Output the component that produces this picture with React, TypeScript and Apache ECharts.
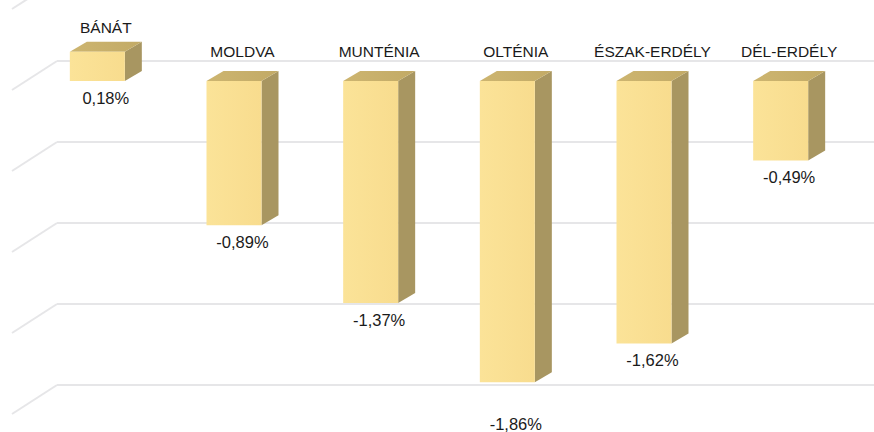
import React, { useEffect, useRef } from "react";
import * as echarts from "echarts";

const categories = ["BÁNÁT", "MOLDVA", "MUNTÉNIA", "OLTÉNIA", "ÉSZAK-ERDÉLY", "DÉL-ERDÉLY"];
const values = [0.18, -0.89, -1.37, -1.86, -1.62, -0.49];
const wallTicks = [0.5, 0, -0.5, -1, -1.5, -2];

// extra downward nudge for labels that were moved in the original
const valueLabelNudge: Record<string, number> = { "OLTÉNIA": 25 };

const fmt = (v: number) => v.toFixed(2).replace(".", ",") + "%";

const FONT = "'Liberation Sans', Arial, sans-serif";
const GRID_COLOR = "#e6e6e8";

export default function App() {
  const ref = useRef<HTMLDivElement>(null);

  useEffect(() => {
    document.body.style.margin = "0";
    const chart = echarts.init(ref.current!, null, { renderer: "svg" });
    const DX = 17;
    const DY = -10;
    const BW = 55;

    chart.setOption({
      animation: false,
      backgroundColor: "#ffffff",
      grid: [
        { left: 57, right: 0, top: 61, bottom: 47 },
        { left: 29, right: 25, top: 48.6, bottom: 27 },
      ],
      xAxis: [
        { gridIndex: 0, type: "value", min: 0, max: 1, show: false },
        { gridIndex: 1, type: "category", data: categories, show: false },
      ],
      yAxis: [
        {
          gridIndex: 0,
          type: "value",
          min: -2,
          max: 0,
          interval: 0.5,
          axisLine: { show: false },
          axisTick: { show: false },
          axisLabel: { show: false },
          splitLine: { show: true, lineStyle: { color: GRID_COLOR, width: 2 } },
        },
        { gridIndex: 1, type: "value", min: -2, max: 0.2, show: false, splitLine: { show: false } },
      ],
      series: [
        {
          type: "custom",
          xAxisIndex: 0,
          yAxisIndex: 0,
          silent: true,
          clip: false,
          data: wallTicks.map((v) => [0, v]),
          renderItem: (_params: any, api: any) => {
            const p = api.coord([0, api.value(1)]);
            return {
              type: "line",
              shape: { x1: p[0], y1: p[1], x2: p[0] - 45, y2: p[1] + 29 },
              style: { stroke: GRID_COLOR, lineWidth: 2 },
            };
          },
        },
        {
          type: "custom",
          xAxisIndex: 1,
          yAxisIndex: 1,
          clip: false,
          data: values.map((v, i) => [i, v]),
          renderItem: (params: any, api: any) => {
            const i = api.value(0);
            const v = api.value(1);
            const base = api.coord([i, 0]);
            const tip = api.coord([i, v]);
            const x0 = base[0] - BW / 2;
            const x1 = base[0] + BW / 2;
            const yTop = Math.min(base[1], tip[1]);
            const yBot = Math.max(base[1], tip[1]);
            const cx = base[0] + DX / 2;
            const name = categories[params.dataIndex];
            const nameY = v >= 0 ? yTop + DY - 14 : yTop + DY - 20;
            const valY = yBot + 17 + (valueLabelNudge[name] || 0);
            return {
              type: "group",
              children: [
                {
                  type: "polygon",
                  shape: { points: [[x1, yTop], [x1 + DX, yTop + DY], [x1 + DX, yBot + DY], [x1, yBot]] },
                  style: { fill: "#a89661" },
                },
                {
                  type: "polygon",
                  shape: { points: [[x0, yTop], [x0 + DX, yTop + DY], [x1 + DX, yTop + DY], [x1, yTop]] },
                  style: {
                    fill: new echarts.graphic.LinearGradient(0, 0, 1, 0, [
                      { offset: 0, color: "#cdb570" },
                      { offset: 1, color: "#c2aa66" },
                    ]),
                  },
                },
                {
                  type: "rect",
                  shape: { x: x0, y: yTop, width: BW, height: yBot - yTop },
                  style: {
                    fill: new echarts.graphic.LinearGradient(0, 0, 1, 0, [
                      { offset: 0, color: "#fbe398" },
                      { offset: 1, color: "#f8dc8e" },
                    ]),
                  },
                },
                {
                  type: "text",
                  style: {
                    x: cx,
                    y: nameY,
                    text: name,
                    align: "center",
                    verticalAlign: "middle",
                    fontFamily: FONT,
                    fontSize: 15.5,
                    fill: "#1a1a1a",
                  },
                },
                {
                  type: "text",
                  style: {
                    x: cx,
                    y: valY,
                    text: fmt(v),
                    align: "center",
                    verticalAlign: "middle",
                    fontFamily: FONT,
                    fontSize: 16.5,
                    fill: "#1a1a1a",
                  },
                },
              ],
            };
          },
        },
      ],
    });

    return () => chart.dispose();
  }, []);

  return <div ref={ref} style={{ width: 874, height: 432 }} />;
}
